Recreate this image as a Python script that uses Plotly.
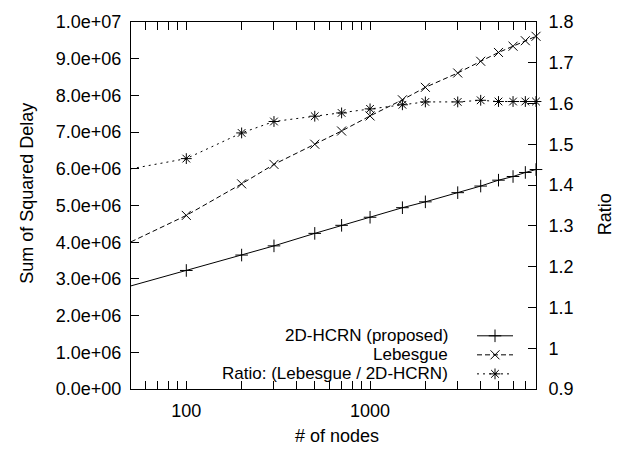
import math
import plotly.graph_objects as go

# Network sizes (# of nodes)
nodes = [50, 100, 200, 300, 500, 700, 1000, 1500, 2000, 3000, 4000, 5000, 6000, 7000, 8000]

# Sum of squared delay for each scheme
hcrn = [2.81e6, 3.23e6, 3.65e6, 3.90e6, 4.24e6, 4.46e6, 4.68e6, 4.94e6,
        5.10e6, 5.35e6, 5.53e6, 5.69e6, 5.79e6, 5.90e6, 5.98e6]
lebesgue = [4.01e6, 4.73e6, 5.59e6, 6.12e6, 6.67e6, 7.03e6, 7.44e6, 7.88e6,
            8.22e6, 8.61e6, 8.93e6, 9.17e6, 9.34e6, 9.49e6, 9.61e6]

# Ratio Lebesgue / 2D-HCRN (right axis)
ratio = [1.440, 1.465, 1.528, 1.556, 1.569, 1.577, 1.587, 1.597,
         1.604, 1.604, 1.608, 1.605, 1.605, 1.605, 1.605]

# Axis ticks
x_ticks = [100, 1000]
x_tick_labels = ["100", "1000"]
y_ticks = [i * 1e6 for i in range(11)]
y_tick_labels = ["0.0e+00", "1.0e+06", "2.0e+06", "3.0e+06", "4.0e+06", "5.0e+06",
                 "6.0e+06", "7.0e+06", "8.0e+06", "9.0e+06", "1.0e+07"]
y2_ticks = [0.9, 1.0, 1.1, 1.2, 1.3, 1.4, 1.5, 1.6, 1.7, 1.8]
y2_tick_labels = ["0.9", "1", "1.1", "1.2", "1.3", "1.4", "1.5", "1.6", "1.7", "1.8"]

series_names = ["2D-HCRN (proposed)", "Lebesgue", "Ratio: (Lebesgue / 2D-HCRN)"]

FONT = "Liberation Sans, Arial, Helvetica, sans-serif"
FS = 18
KEY_FS = 17
INK = "black"

# Plot area in pixels (used to place the titles and the key)
L, R, T, B = 131, 536, 13, 389
PW, PH = R - L, B - T


def px(xp):
    return (xp - L) / PW


def py(yp):
    return (B - yp) / PH


styles = [
    dict(dash="solid", symbol="cross-thin"),
    dict(dash="5px,3px", symbol="x-thin"),
    dict(dash="2px,4px", symbol="asterisk"),
]

fig = go.Figure()


def add_series(y, name, style, yaxis):
    fig.add_trace(go.Scatter(
        x=nodes, y=y, name=name, mode="lines+markers", yaxis=yaxis,
        line=dict(color=INK, width=1, dash=style["dash"]),
        marker=dict(symbol=style["symbol"], size=9, color=INK,
                    line=dict(color=INK, width=1)),
        cliponaxis=False, showlegend=False,
    ))


add_series(hcrn, series_names[0], styles[0], "y")
add_series(lebesgue, series_names[1], styles[1], "y")
add_series(ratio, series_names[2], styles[2], "y2")

# Key drawn gnuplot-style: right-aligned text followed by a line sample
key_text_x = px(450)
key_line_x0, key_line_x1 = px(477), px(513)
key_rows = [py(334.5), py(354), py(373.5)]
annotations = []
shapes = []
for name, style, ky in zip(series_names, styles, key_rows):
    annotations.append(dict(
        x=key_text_x, y=ky, xref="paper", yref="paper", text=name,
        showarrow=False, xanchor="right", yanchor="middle",
        font=dict(family=FONT, size=KEY_FS, color=INK),
    ))
    shapes.append(dict(
        type="line", xref="paper", yref="paper",
        x0=key_line_x0, x1=key_line_x1, y0=ky, y1=ky,
        line=dict(color=INK, width=1, dash=style["dash"]),
    ))
    fig.add_trace(go.Scatter(
        x=[(key_line_x0 + key_line_x1) / 2], y=[ky], xaxis="x3", yaxis="y3",
        mode="markers", showlegend=False, hoverinfo="skip",
        marker=dict(symbol=style["symbol"], size=9, color=INK,
                    line=dict(color=INK, width=1)),
    ))

# Axis titles
annotations += [
    dict(x=px(337), y=py(437), xref="paper", yref="paper", text="# of nodes",
         showarrow=False, xanchor="center", yanchor="middle",
         font=dict(family=FONT, size=FS, color=INK)),
    dict(x=px(27), y=py(188), xref="paper", yref="paper",
         text="Sum of Squared Delay", textangle=-90, showarrow=False,
         xanchor="center", yanchor="middle",
         font=dict(family=FONT, size=FS, color=INK)),
    dict(x=px(605), y=py(210), xref="paper", yref="paper",
         text="Ratio", textangle=-90, showarrow=False,
         xanchor="center", yanchor="middle",
         font=dict(family=FONT, size=FS, color=INK)),
]

minor_x = [m * 10 ** e for e in (1, 2, 3) for m in range(2, 10)]

fig.update_layout(
    width=639, height=450,
    margin=dict(l=L, r=639 - R, t=T, b=450 - B, pad=0),
    paper_bgcolor="white", plot_bgcolor="white",
    font=dict(family=FONT, size=FS, color=INK),
    showlegend=False,
    xaxis=dict(
        type="log", range=[math.log10(50), math.log10(8000)],
        tickmode="array", tickvals=x_ticks, ticktext=x_tick_labels,
        ticks="inside", ticklen=8, tickcolor=INK, tickwidth=1,
        minor=dict(tickmode="array", tickvals=minor_x, ticks="inside",
                   ticklen=4, tickcolor=INK, tickwidth=1, showgrid=False),
        showline=True, linecolor=INK, linewidth=1, mirror="allticks",
        showgrid=False, zeroline=False, ticklabelstandoff=5,
    ),
    yaxis=dict(
        range=[0, 1e7], tickmode="array", tickvals=y_ticks, ticktext=y_tick_labels,
        ticks="inside", ticklen=8, tickcolor=INK, tickwidth=1,
        showline=True, linecolor=INK, linewidth=1, mirror=False,
        showgrid=False, zeroline=False, ticklabelstandoff=5,
    ),
    yaxis2=dict(
        range=[0.9, 1.8], overlaying="y", side="right", anchor="x",
        tickmode="array", tickvals=y2_ticks, ticktext=y2_tick_labels,
        ticks="inside", ticklen=8, tickcolor=INK, tickwidth=1,
        showline=True, linecolor=INK, linewidth=1,
        showgrid=False, zeroline=False, ticklabelstandoff=8,
    ),
    xaxis3=dict(overlaying="x", range=[0, 1], visible=False, anchor="y3"),
    yaxis3=dict(overlaying="y", range=[0, 1], visible=False, anchor="x3"),
    annotations=annotations,
    shapes=shapes,
)

fig.write_html("out.html")
